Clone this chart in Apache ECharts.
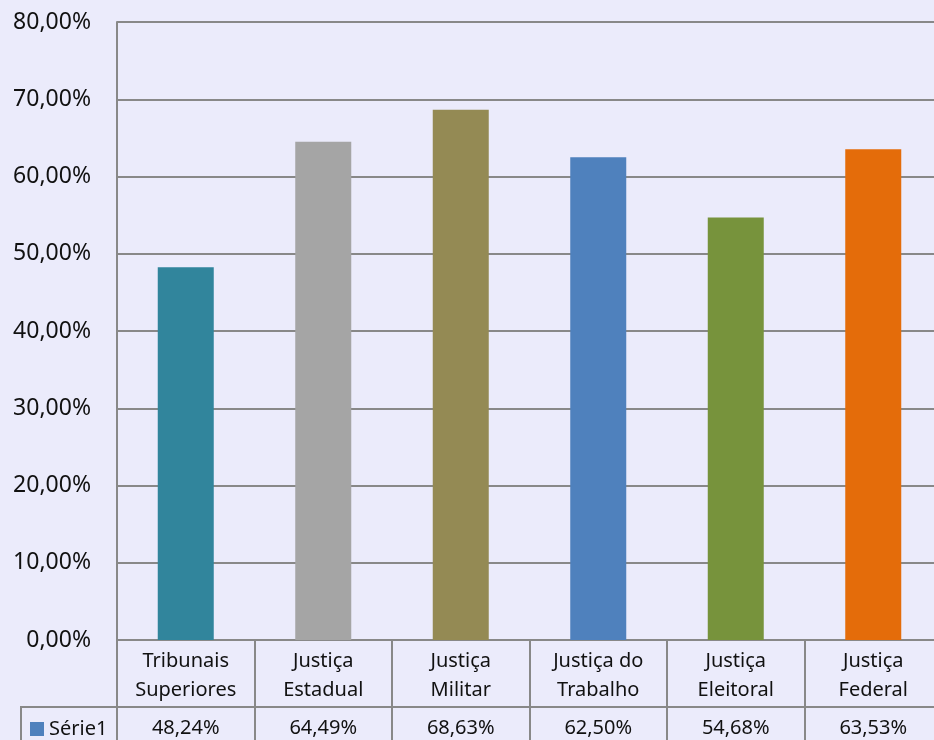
<!DOCTYPE html>
<html>
<head>
<meta charset="utf-8">
<script src="https://cdn.jsdelivr.net/npm/echarts@6/dist/echarts.min.js"></script>
<style>
html,body{margin:0;padding:0;background:#EBEBFB;}
#c{width:934px;height:740px;}
</style>
</head>
<body>
<div id="c"></div>
<script>
var categories = ['Tribunais\nSuperiores', 'Justiça\nEstadual', 'Justiça\nMilitar', 'Justiça do\nTrabalho', 'Justiça\nEleitoral', 'Justiça\nFederal'];
var values = [48.24, 64.49, 68.63, 62.50, 54.68, 63.53];
var barColors = ['#31859C', '#A5A5A5', '#948A54', '#4F81BD', '#77933C', '#E46C0A'];
var seriesName = 'Série1';
var yTicks = {min: 0, max: 80, interval: 10};

function pct(v) { return v.toFixed(2).replace('.', ',') + '%'; }

var lineColor = '#888888';
var font = '"Noto Sans"';
var chart = echarts.init(document.getElementById('c'));
chart.setOption({
  backgroundColor: '#EBEBFB',
  animation: false,
  grid: {left: 117, right: -8, top: 22, bottom: 100, containLabel: false, outerBoundsMode: 'none'},
  legend: {
    data: [{name: seriesName, icon: 'rect', itemStyle: {color: '#4F81BD'}}],
    left: 30, top: 719, itemWidth: 14, itemHeight: 14, padding: 0, itemGap: 5,
    textStyle: {fontFamily: font, fontSize: 20, color: '#111', padding: [2, 0, 0, 0]},
    selectedMode: false
  },
  xAxis: [{
    type: 'category',
    data: categories,
    position: 'bottom',
    axisLine: {show: false},
    axisTick: {show: true, alignWithLabel: false, length: 67, lineStyle: {color: lineColor, width: 2}},
    axisLabel: {fontFamily: font, fontSize: 20, color: '#111', lineHeight: 29, margin: 7, interval: 0}
  }, {
    type: 'category',
    data: values.map(pct),
    position: 'bottom',
    offset: 67,
    axisLine: {show: true, lineStyle: {color: lineColor, width: 2}},
    axisTick: {show: true, alignWithLabel: false, length: 40, lineStyle: {color: lineColor, width: 2}},
    axisLabel: {fontFamily: font, fontSize: 20, color: '#111', lineHeight: 24, margin: 9, interval: 0}
  }],
  yAxis: {
    type: 'value',
    min: yTicks.min, max: yTicks.max, interval: yTicks.interval,
    axisLine: {show: true, lineStyle: {color: lineColor, width: 2}},
    axisTick: {show: false},
    splitLine: {show: true, lineStyle: {color: lineColor, width: 2}},
    axisLabel: {fontFamily: font, fontSize: 23, color: '#111', margin: 26, padding: [4, 0, 0, 0], formatter: pct}
  },
  series: [{
    name: seriesName,
    type: 'bar',
    xAxisIndex: 0,
    barWidth: 56,
    data: values.map(function (v, i) { return {value: v, itemStyle: {color: barColors[i]}}; })
  }],
  graphic: [
    {type: 'line', shape: {x1: 21, y1: 707, x2: 118, y2: 707}, style: {stroke: lineColor, lineWidth: 2}},
    {type: 'line', shape: {x1: 21, y1: 706, x2: 21, y2: 742}, style: {stroke: lineColor, lineWidth: 2}},
    {type: 'line', shape: {x1: 117, y1: 640, x2: 117, y2: 742}, style: {stroke: lineColor, lineWidth: 2}}
  ]
});
</script>
</body>
</html>
